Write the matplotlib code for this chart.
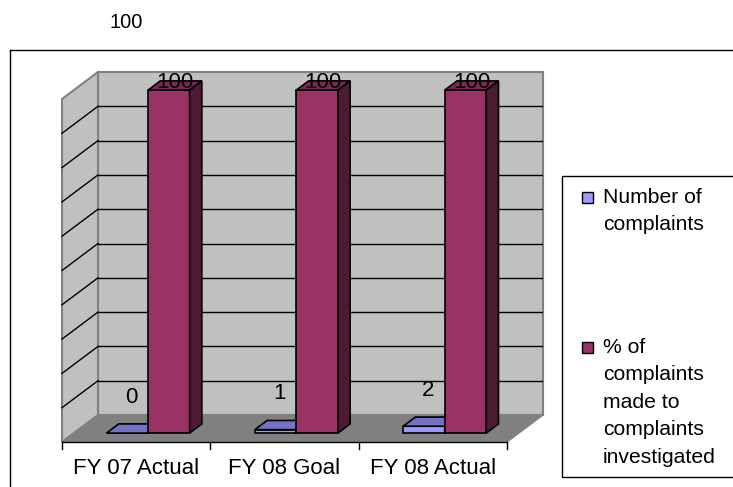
import matplotlib
matplotlib.use("Agg")
import matplotlib.pyplot as plt
from matplotlib.patches import Polygon, Rectangle
from matplotlib.lines import Line2D

plt.rcParams['font.family'] = ['Liberation Sans', 'DejaVu Sans']

categories = ["FY 07 Actual", "FY 08 Goal", "FY 08 Actual"]
n_complaints = [0, 1, 2]
pct_investigated = [100, 100, 100]
series_names = ["Number of\ncomplaints",
                "% of\ncomplaints\nmade to\ncomplaints\ninvestigated"]
title_text = "100"

W, H = 733, 487
FS = 16
FS_LEG = 15.2

# colours (Excel 2003 style)
blue_front, blue_top, blue_side = "#9999ff", "#7373c6", "#5c5c99"
mag_front, mag_top, mag_side = "#993366", "#7a2952", "#4d1a33"
wall, floor_c, wall_edge = "#c0c0c0", "#808080", "#808080"

fig = plt.figure(figsize=(W / 100, H / 100), dpi=100)

def px(x, y):
  # figure pixel (top-left origin) -> figure fraction
  return x / W, 1 - y / H

# back wall area in pixels
bx0, bx1, by0, by1 = 98, 543, 72, 415
ax = fig.add_axes([bx0 / W, 1 - by1 / H, (bx1 - bx0) / W, (by1 - by0) / H])
ax.set_xlim(0, len(categories))
ax.set_ylim(0, 100)
ax.axis('off')

# depth offset (front plane relative to back plane), in data units
DX = -36 / ((bx1 - bx0) / len(categories))
DY = -27 / ((by1 - by0) / 100.)

def P(x, y, d):
  return (x + d * DX, y + d * DY)

def poly(pts, fc, ec, lw=1.0, z=1):
  ax.add_patch(Polygon(pts, closed=True, fc=fc, ec=ec, lw=lw, zorder=z, clip_on=False))

ncat = len(categories)
# walls
poly([P(0, 0, 0), P(ncat, 0, 0), P(ncat, 100, 0), P(0, 100, 0)], wall, wall_edge, 1.5, 1)
poly([P(0, 0, 0), P(0, 100, 0), P(0, 100, 1), P(0, 0, 1)], wall, wall_edge, 1.5, 1)
poly([P(0, 0, 0), P(ncat, 0, 0), P(ncat, 0, 1), P(0, 0, 1)], floor_c, floor_c, 1.0, 1)

# gridlines
for v in range(10, 100, 10):
  ax.add_line(Line2D([0, ncat], [v, v], color="black", lw=1, zorder=2))
  a, b = P(0, v, 1), P(0, v, 0)
  ax.add_line(Line2D([a[0], b[0]], [a[1], b[1]], color="black", lw=1, zorder=2, clip_on=False))

# front axis line and ticks
a, b = P(0, 0, 1), P(ncat, 0, 1)
ax.add_line(Line2D([a[0], b[0]], [a[1], b[1]], color="black", lw=1, zorder=3, clip_on=False))
for i in range(ncat + 1):
  a = P(i, 0, 1)
  ax.add_line(Line2D([a[0], a[0]], [a[1], a[1] - 2.1], color="black", lw=1, zorder=3, clip_on=False))

def bar3d(x0, x1, v, d0, d1, cf, ct, cs, z):
  poly([P(x0, 0, d1), P(x1, 0, d1), P(x1, v, d1), P(x0, v, d1)], cf, "black", 1.2, z)
  poly([P(x0, v, d1), P(x1, v, d1), P(x1, v, d0), P(x0, v, d0)], ct, "black", 1.2, z)
  poly([P(x1, 0, d1), P(x1, 0, d0), P(x1, v, d0), P(x1, v, d1)], cs, "black", 1.2, z)

bw = 0.28
d0, d1 = 0.33, 0.67
for i in range(ncat):
  xb = i + 0.5 - bw
  xm = i + 0.5
  bar3d(xb, xb + bw, n_complaints[i], d0, d1, blue_front, blue_top, blue_side, 4 + 2 * i)
  bar3d(xm, xm + bw, pct_investigated[i], d0, d1, mag_front, mag_top, mag_side, 5 + 2 * i)
  # value labels
  ax.annotate(str(n_complaints[i]), P(xb + bw / 2, n_complaints[i], 0.5),
              xytext=(-1.5, 22.5), textcoords="offset points", annotation_clip=False,
              ha="center", va="center", fontsize=FS, zorder=20)
  ax.annotate(str(pct_investigated[i]), P(xm + bw / 2, pct_investigated[i], 0.5),
              xytext=(0, 2), textcoords="offset points", annotation_clip=False,
              ha="center", va="center", fontsize=FS, zorder=20)
  # category labels
  ax.annotate(categories[i], P(i + 0.5, 0, 1),
              xytext=(0, -19), textcoords="offset points",
              ha="center", va="center", fontsize=FS, annotation_clip=False)

# title
fig.text(*px(126, 22), title_text, ha="center", va="center", fontsize=14.5)

# outer chart frame
fx, fy = px(10, 49.5)
fig.add_artist(Line2D([fx, fx], [fy, -0.1], color="black", lw=1, transform=fig.transFigure))
fig.add_artist(Line2D([fx, 1.1], [fy, fy], color="black", lw=1, transform=fig.transFigure))

# legend box
lx0, ly0 = px(562, 477)
lx1, ly1 = px(745, 176)
fig.add_artist(Rectangle((lx0, ly0), lx1 - lx0, ly1 - ly0, fill=False, ec="black", lw=1,
                         transform=fig.transFigure))
for name, col, ytop in zip(series_names, [blue_front, mag_front], [192, 342]):
  mx, my = px(582, ytop + 11)
  fig.add_artist(Rectangle((mx, my), 11 / W, 11 / H, fc=col, ec="black", lw=1,
                           transform=fig.transFigure))
  tx, ty = px(603, ytop - 4)
  fig.text(tx, ty, name, ha="left", va="top", fontsize=FS_LEG, linespacing=1.56)

fig.savefig("out.png", dpi=100)
